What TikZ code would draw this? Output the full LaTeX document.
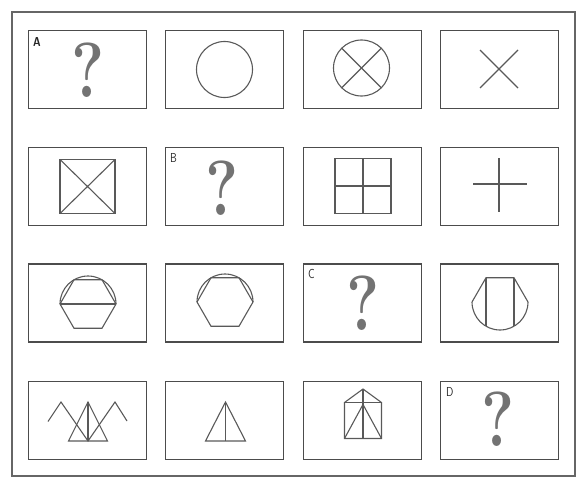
\documentclass[tikz,border=0pt]{standalone}
\usepackage{tikz}

\begin{document}
\begin{tikzpicture}[x=1pt, y=-1pt,
    frame/.style={draw=black!60, line width=2.5pt},
    card/.style={draw=black!70, line width=1.3pt, minimum width=118pt, minimum height=78pt, inner sep=0pt},
    fig/.style={draw=black!65, line width=1.1pt},
    quest/.style={text=black!55, font=\fontsize{78}{78}\selectfont\bfseries, xscale=0.8, inner sep=0pt},
    tag/.style={font=\fontsize{13}{13}\selectfont\sffamily, text=black!85, xscale=0.8, inner sep=0pt, anchor=north west}
]
\useasboundingbox (0,0) rectangle (578,487);

% outer frame
\draw[frame] (12,12) rectangle (575,476);

% cards, row by row
\node[card] (b11) at (87.5,69.5) {};
\node[card] (b12) at (224.5,69.5) {};
\node[card] (b13) at (362.5,69.5) {};
\node[card] (b14) at (499.5,69.5) {};

\node[card] (b21) at (87.5,186.5) {};
\node[card] (b22) at (224.5,186.5) {};
\node[card] (b23) at (362.5,186.5) {};
\node[card] (b24) at (499.5,186.5) {};

\node[card] (b31) at (87.5,303) {};
\node[card] (b32) at (224.5,303) {};
\node[card] (b33) at (362.5,303) {};
\node[card] (b34) at (499.5,303) {};

\node[card] (b41) at (87.5,420.5) {};
\node[card] (b42) at (224.5,420.5) {};
\node[card] (b43) at (362.5,420.5) {};
\node[card] (b44) at (499.5,420.5) {};

% the four unknowns
\node[quest] (qa) at (88,70) {?};
\node[tag] (la) at (33,37) {\bfseries A};
\node[quest] (qb) at (222.5,188.5) {?};
\node[tag] (lb) at (170,153) {B};
\node[quest] (qc) at (363,303.5) {?};
\node[tag] (lc) at (308,269) {C};
\node[quest] (qd) at (498,419.5) {?};
\node[tag] (ld) at (446,387) {D};

% row 1
\begin{scope}[shift={(b12)}]
  \draw[fig] (0,0) circle[radius=28];
\end{scope}
\begin{scope}[shift={(b13)}]
  \draw[fig] (-1,-1.5) circle[radius=28];
  \draw[fig] (-20.8,-21.3) -- (18.8,18.3);
  \draw[fig] (18.8,-21.3) -- (-20.8,18.3);
\end{scope}
\begin{scope}[shift={(b14)}]
  \draw[fig] (-19.5,-19.5) -- (18.5,18.5);
  \draw[fig] (18.5,-19.5) -- (-19.5,18.5);
\end{scope}

% row 2
\begin{scope}[shift={(b21)}]
  \draw[fig] (-27.5,-27) rectangle (27.5,27);
  \draw[fig] (-27.5,-27) -- (27.5,27);
  \draw[fig] (27.5,-27) -- (-27.5,27);
\end{scope}
\begin{scope}[shift={(b23)}]
  \draw[fig] (-27.5,-28) rectangle (28.5,27);
  \draw[fig] (0.5,-28) -- (0.5,27);
  \draw[fig] (-27.5,-0.5) -- (28.5,-0.5);
\end{scope}
\begin{scope}[shift={(b24)}]
  \draw[fig] (-0.5,-28.5) -- (-0.5,25.5);
  \draw[fig] (-26.5,-2.5) -- (27.5,-2.5);
\end{scope}

% row 3
\begin{scope}[shift={(b31)}]
  \draw[fig] (28.5,1) -- (14.5,25.25) -- (-13.5,25.25) -- (-27.5,1)
    -- (-13.5,-23.25) -- (14.5,-23.25) -- cycle;
  \draw[fig] (28.5,1) arc[start angle=0, end angle=-180, radius=28];
  \draw[fig] (-27.5,1) -- (28.5,1);
\end{scope}
\begin{scope}[shift={(b32)}]
  \draw[fig] (28.5,-1) -- (14.5,23.25) -- (-13.5,23.25) -- (-27.5,-1)
    -- (-13.5,-25.25) -- (14.5,-25.25) -- cycle;
  \draw[fig] (28.5,-1) arc[start angle=0, end angle=-180, radius=28];
\end{scope}
\begin{scope}[shift={(b34)}]
  \draw[fig] (-27.5,-1) -- (-13.5,-25.25) -- (14.5,-25.25) -- (28.5,-1)
    arc[start angle=0, end angle=180, radius=28];
  \draw[fig] (-13.5,-25.25) -- (-13.5,23.25);
  \draw[fig] (14.5,-25.25) -- (14.5,23.25);
\end{scope}

% row 4
\begin{scope}[shift={(b41)}]
  \draw[fig] (-39.5,1) -- (-26.5,-18.5) -- (0.5,20.5) -- (27.5,-18.5) -- (39.5,0.5);
  \draw[fig] (0.5,-18.5) -- (-19,20.5) -- (20,20.5) -- cycle;
  \draw[fig] (0.5,-18.5) -- (0.5,20.5);
\end{scope}
\begin{scope}[shift={(b42)}]
  \draw[fig] (1,-18.5) -- (-19,20.5) -- (21,20.5) -- cycle;
  \draw[fig] (1,-18.5) -- (1,20.5);
\end{scope}
\begin{scope}[shift={(b43)}]
  \draw[fig] (-18,18) -- (-18,-18) -- (0.5,-31.5) -- (19,-18) -- (19,18) -- cycle;
  \draw[fig] (-18,-18) -- (19,-18);
  \draw[fig] (0.5,-31.5) -- (0.5,18);
  \draw[fig] (-18,18) -- (0.5,-16) -- (19,18);
\end{scope}

\end{tikzpicture}
\end{document}
